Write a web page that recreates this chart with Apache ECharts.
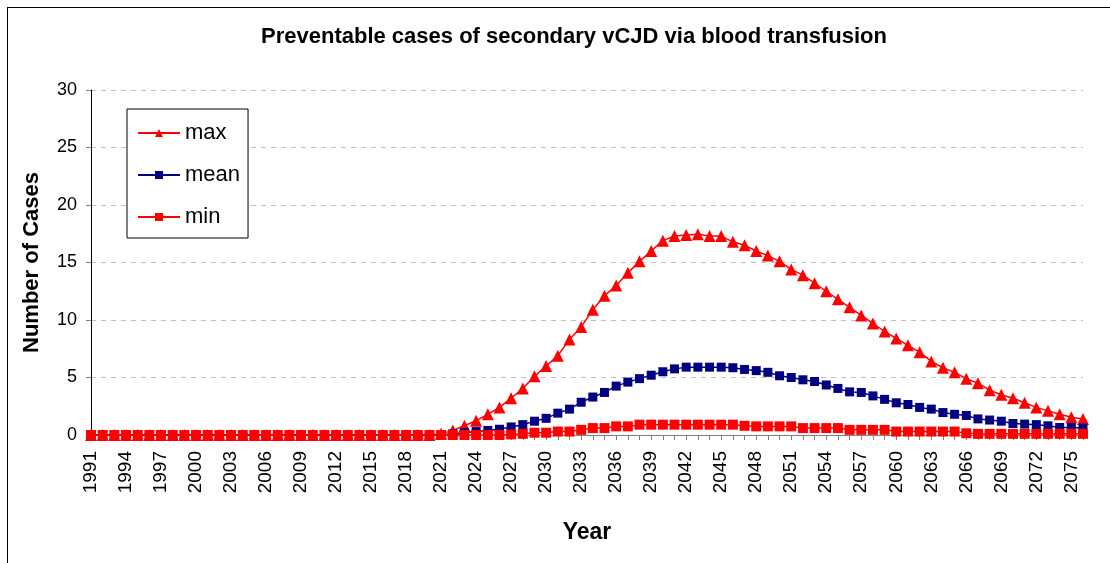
<!DOCTYPE html>
<html>
<head>
<meta charset="utf-8">
<script src="https://cdn.jsdelivr.net/npm/echarts@6/dist/echarts.min.js"></script>
<style>
  html, body { margin: 0; padding: 0; background: #fff; }
  #frame { position: absolute; left: 7px; top: 7px; width: 1110px; height: 563px; border: 1px solid #000; box-sizing: border-box; }
  #chart { position: absolute; left: 0; top: 0; width: 1110px; height: 563px; }
</style>
</head>
<body>
<div id="frame"></div>
<div id="chart"></div>
<script>
// 年份
var years = ["1991","1992","1993","1994","1995","1996","1997","1998","1999","2000",
  "2001","2002","2003","2004","2005","2006","2007","2008","2009","2010",
  "2011","2012","2013","2014","2015","2016","2017","2018","2019","2020",
  "2021","2022","2023","2024","2025","2026","2027","2028","2029","2030",
  "2031","2032","2033","2034","2035","2036","2037","2038","2039","2040",
  "2041","2042","2043","2044","2045","2046","2047","2048","2049","2050",
  "2051","2052","2053","2054","2055","2056","2057","2058","2059","2060",
  "2061","2062","2063","2064","2065","2066","2067","2068","2069","2070",
  "2071","2072","2073","2074","2075","2076"];

// max (1991-2020 are zero)
var maxCases = [0,0,0,0,0,0,0,0,0,0, 0,0,0,0,0,0,0,0,0,0, 0,0,0,0,0,0,0,0,0,0,
  0.1,0.4,0.8,1.25,1.8,2.4,3.2,4.05,5.1,6.0,
  6.9,8.3,9.4,10.9,12.1,13.0,14.1,15.1,16.0,16.9,
  17.3,17.4,17.45,17.3,17.3,16.8,16.5,16.0,15.6,15.1,
  14.4,13.9,13.2,12.5,11.8,11.1,10.4,9.7,9.0,8.4,
  7.8,7.2,6.4,5.85,5.45,4.9,4.5,3.9,3.5,3.2,
  2.8,2.4,2.1,1.8,1.55,1.4];

// mean
var meanCases = [0,0,0,0,0,0,0,0,0,0, 0,0,0,0,0,0,0,0,0,0, 0,0,0,0,0,0,0,0,0,0,
  0,0.1,0.2,0.3,0.4,0.5,0.7,0.9,1.2,1.45,
  1.9,2.25,2.85,3.3,3.7,4.25,4.6,4.9,5.2,5.5,
  5.75,5.9,5.9,5.9,5.9,5.85,5.7,5.6,5.45,5.15,
  5.0,4.8,4.65,4.35,4.05,3.75,3.7,3.4,3.1,2.8,
  2.65,2.4,2.25,1.95,1.8,1.7,1.4,1.3,1.2,1.0,
  0.95,0.9,0.8,0.65,0.65,0.6];

// min
var minCases = [0,0,0,0,0,0,0,0,0,0, 0,0,0,0,0,0,0,0,0,0, 0,0,0,0,0,0,0,0,0,0,
  0,0,0,0,0,0,0.05,0.1,0.2,0.2,
  0.3,0.3,0.45,0.6,0.6,0.75,0.75,0.9,0.9,0.9,
  0.9,0.9,0.9,0.9,0.9,0.9,0.8,0.75,0.75,0.75,
  0.75,0.6,0.6,0.6,0.6,0.45,0.45,0.45,0.45,0.3,
  0.3,0.3,0.3,0.3,0.3,0.15,0.1,0.1,0.1,0.1,
  0.1,0.1,0.1,0.1,0.1,0.1];

var yTicks = { min: 0, max: 30, interval: 5 };

(function () {
  var myChart = echarts.init(document.getElementById('chart'));
  var font = "Liberation Sans, Arial, sans-serif";

  var option = {
    animation: false,
    title: {
      text: "Preventable cases of secondary vCJD via blood transfusion",
      left: 569,
      textAlign: "center",
      top: 21,
      textStyle: { fontFamily: font, fontSize: 22, fontWeight: "bold", color: "#000" }
    },
    legend: {
      orient: "vertical",
      left: 127,
      top: 109,
      padding: [13, 8, 10, 10],
      itemGap: 20,
      itemWidth: 42,
      itemHeight: 10,
      borderColor: "#000",
      borderWidth: 1,
      backgroundColor: "#fff",
      textStyle: { fontFamily: font, fontSize: 22, lineHeight: 22, color: "#000" },
      data: ["max", "mean", "min"]
    },
    grid: {
      left: 91,
      right: 27,
      top: 90,
      bottom: 128
    },
    xAxis: {
      type: "category",
      boundaryGap: false,
      data: years,
      name: "Year",
      nameLocation: "middle",
      nameGap: 86,
      nameTextStyle: { fontFamily: font, fontSize: 23, fontWeight: "bold", color: "#000" },
      axisLine: { lineStyle: { color: "#808080", width: 1 } },
      axisTick: { show: true, interval: 0, length: 5, lineStyle: { color: "#808080" } },
      axisLabel: {
        interval: 2,
        rotate: 90,
        margin: 16,
        fontFamily: font,
        fontSize: 19,
        color: "#000"
      },
      splitLine: { show: false }
    },
    yAxis: {
      type: "value",
      min: yTicks.min,
      max: yTicks.max,
      interval: yTicks.interval,
      name: "Number of Cases",
      nameLocation: "middle",
      nameGap: 48,
      nameTextStyle: { fontFamily: font, fontSize: 22, fontWeight: "bold", color: "#000" },
      axisLine: { show: true, lineStyle: { color: "#000", width: 1 } },
      axisTick: { show: true, length: 5, lineStyle: { color: "#808080" } },
      axisLabel: { fontFamily: font, fontSize: 18, color: "#000", margin: 14 },
      splitLine: {
        lineStyle: { color: "#c0c0c0", type: [5, 5], width: 1 }
      }
    },
    series: [
      {
        name: "max",
        type: "line",
        data: maxCases,
        symbol: "triangle",
        symbolSize: 12,
        showAllSymbol: true,
        lineStyle: { color: "#ff0000", width: 1.5 },
        itemStyle: { color: "#ff0000" }
      },
      {
        name: "mean",
        type: "line",
        data: meanCases,
        symbol: "rect",
        symbolSize: 9,
        showAllSymbol: true,
        lineStyle: { color: "#000080", width: 1.5 },
        itemStyle: { color: "#000080" }
      },
      {
        name: "min",
        type: "line",
        data: minCases,
        symbol: "rect",
        symbolSize: 10,
        showAllSymbol: true,
        lineStyle: { color: "#ff0000", width: 1.5 },
        itemStyle: { color: "#ff0000" }
      }
    ]
  };

  myChart.setOption(option);
})();
</script>
</body>
</html>
